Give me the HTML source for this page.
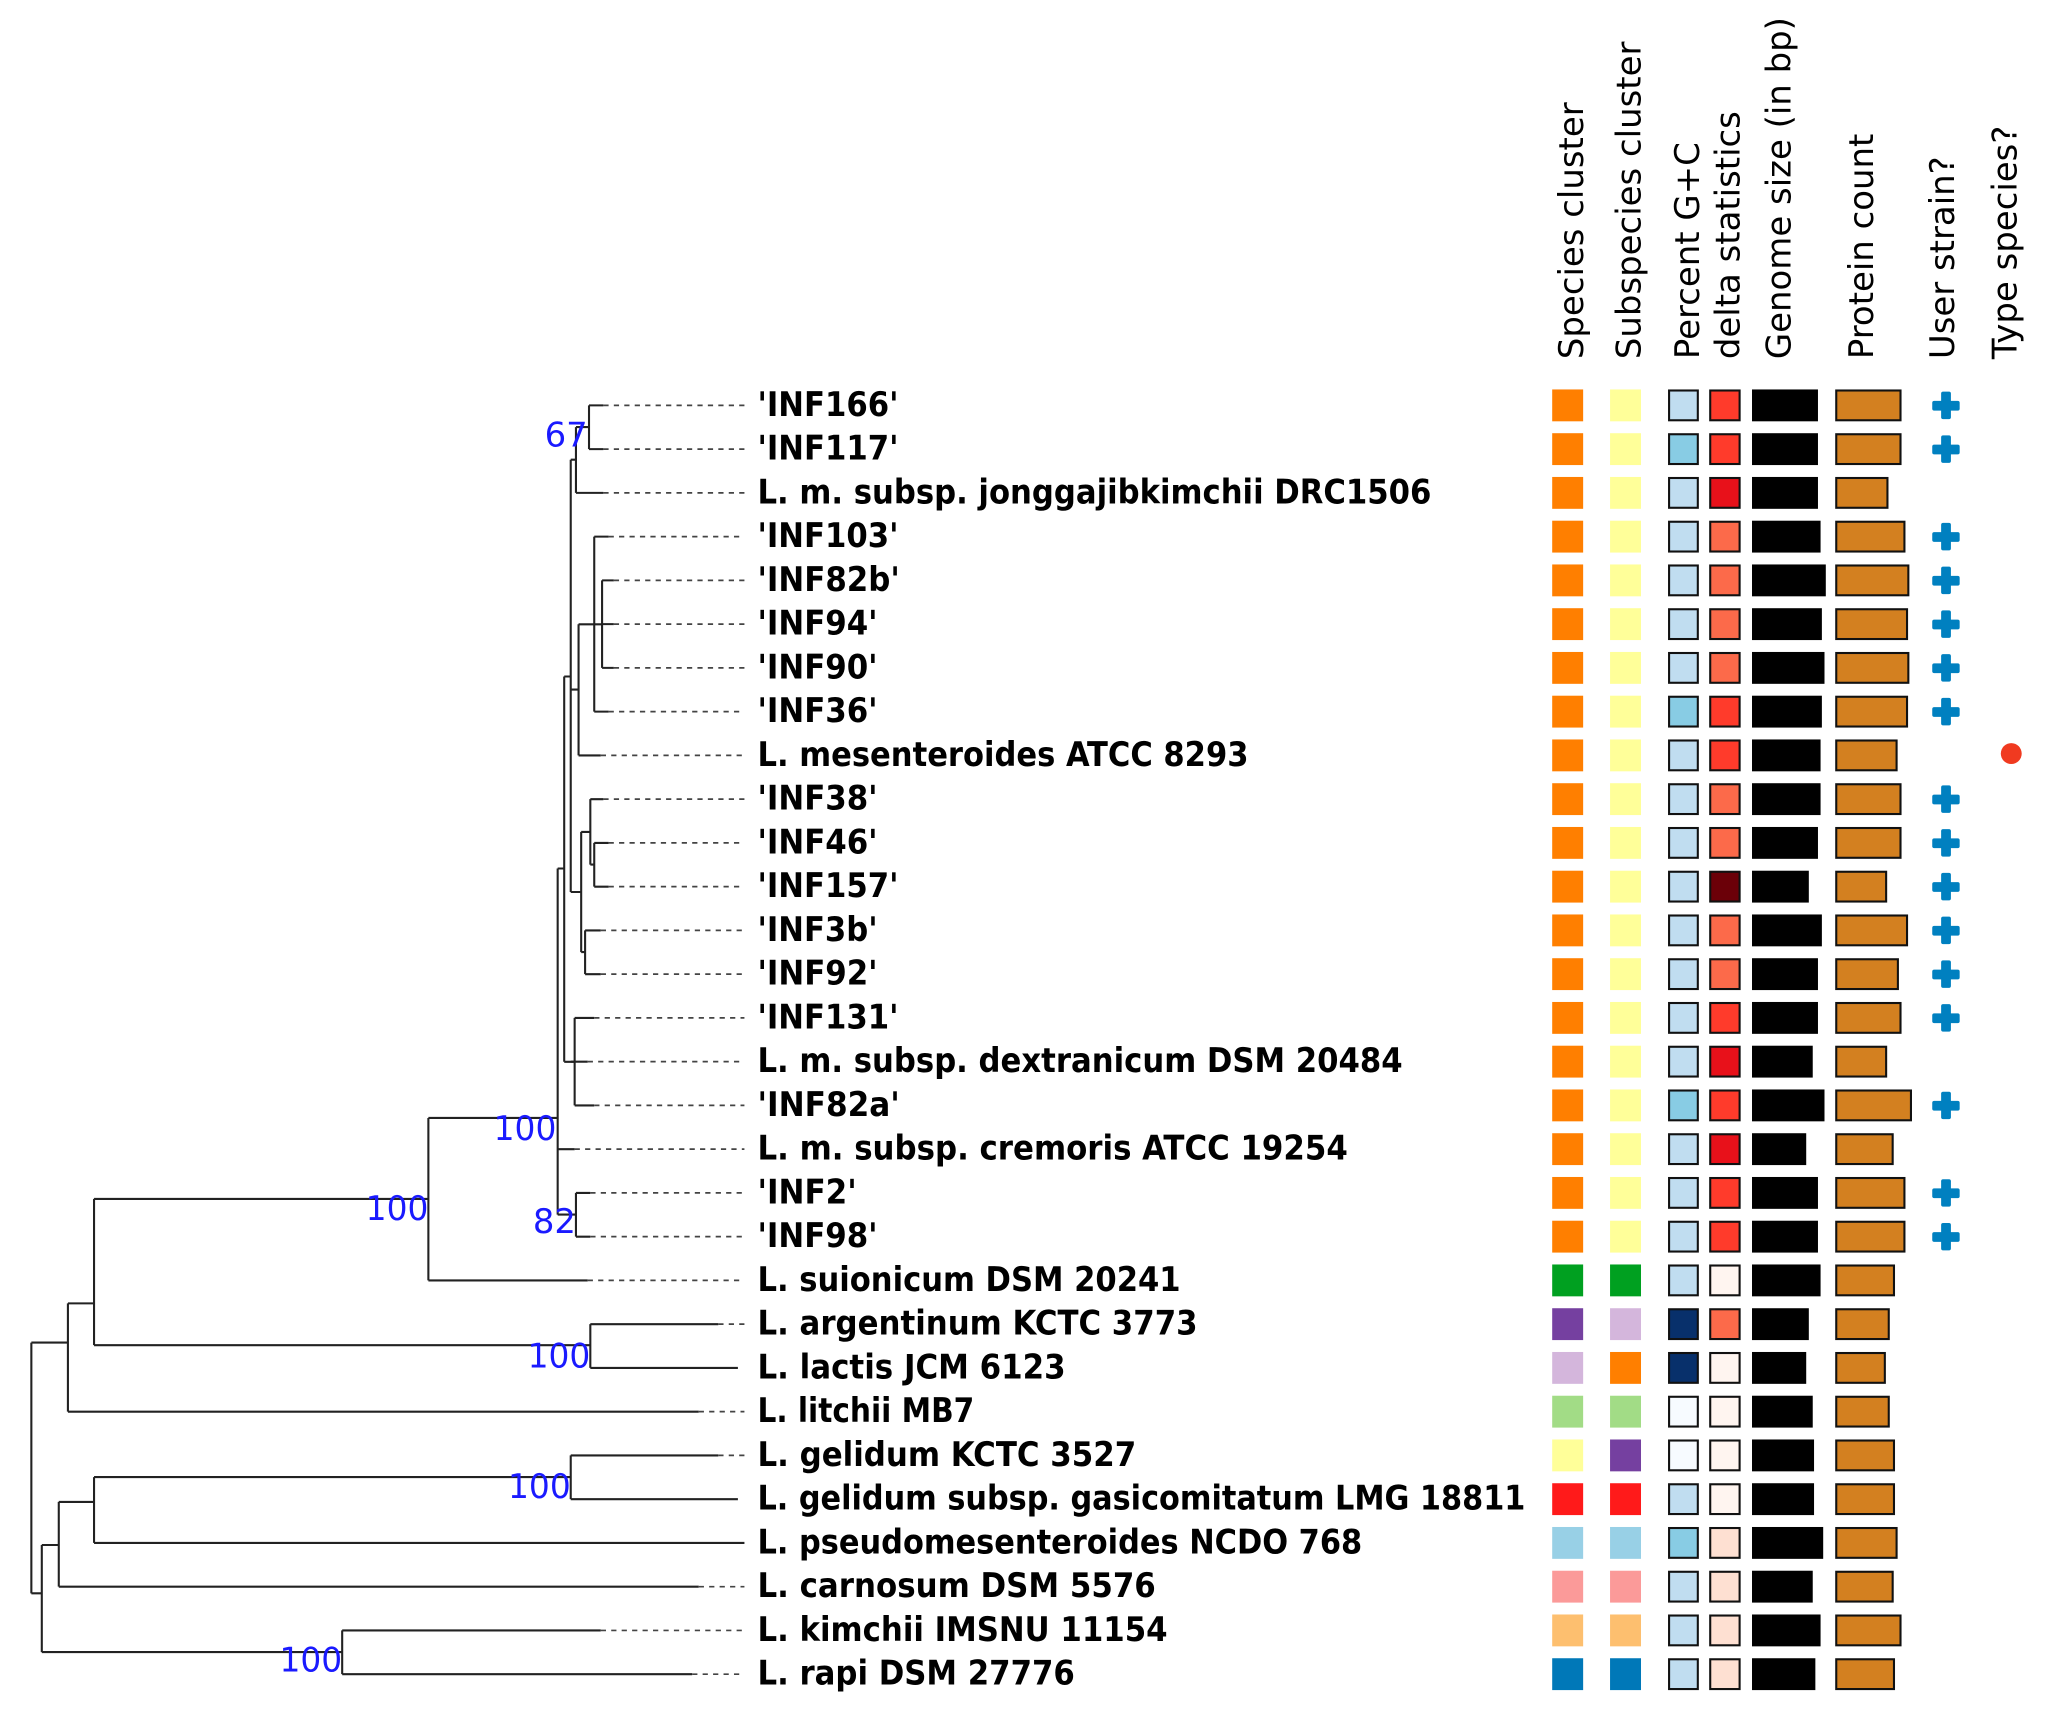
<!DOCTYPE html>
<html><head><meta charset="utf-8"><style>html,body{margin:0;padding:0;background:#fff}svg{display:block}</style></head><body>
<svg width="2046" height="1714" viewBox="0 0 1566.6 1312.4" xmlns="http://www.w3.org/2000/svg">
<g transform="translate(0,-2)">
<g fill="none" stroke="#222" stroke-width="1.6">
<path d="M451 312.4V345.9M441 329H451M441 329V379.4M437 354H441
M461 446.4V513.4M455 480H461M455 412.9V546.9M443 480H455M443 480V580.4M437 530H443
M455 647.4V680.9M452 664H455M452 613.9V664M445 639H452M448 714.4V747.9M445 731H448M445 639V731M437 685H445
M437 354V685M432 520H437M440 781.4V848.4M432 815H440M432 520V815M427 667H432
M441 915.4V948.9M427 932H441M427 667V932M328 858H427M328 858V982.4M72 920H328
M452 1015.9V1049.4M72 1032H452M72 920V1032M52 1000H72M52 1000V1082.9M24 1030H52
M437 1116.4V1149.9M72 1133H437M72 1133V1183.4M45 1152H72M45 1152V1216.9M32 1185H45
M262 1250.4V1283.9M32 1267H262M32 1185V1267M24 1222H32M24 1030V1222"/>
<path d="M451 312.4H462M451 345.9H462M441 379.4H462M455 412.9H466M461 446.4H470M461 479.9H470M461 513.4H470M455 546.9H466M443 580.4H460M452 613.9H462M455 647.4H466M455 680.9H466M448 714.4H460M448 747.9H460M440 781.4H455M437 814.9H450M440 848.4H455M427 881.9H440M441 915.4H452M441 948.9H452M328 982.4H450M452 1015.9H550M452 1049.4H565M52 1082.9H535M437 1116.4H550M437 1149.9H565M72 1183.4H570M45 1216.9H535M262 1250.4H460M262 1283.9H530"/>
</g>
<g fill="none" stroke="#444" stroke-width="1.3" stroke-dasharray="4 4">
<path d="M462 312.4H570M462 345.9H570M462 379.4H570M466 412.9H570M470 446.4H570M470 479.9H570M470 513.4H570M466 546.9H570M460 580.4H570M462 613.9H570M466 647.4H570M466 680.9H570M460 714.4H570M460 747.9H570M455 781.4H570M450 814.9H570M455 848.4H570M440 881.9H570M452 915.4H570M452 948.9H570M450 982.4H570M550 1015.9H570M535 1082.9H570M550 1116.4H570M535 1216.9H570M460 1250.4H570M530 1283.9H570"/>
</g>
<g fill="#1a1aff" font-family="'DejaVu Sans Condensed','DejaVu Sans',sans-serif" font-size="26">
<text x="417" y="344" textLength="33" lengthAdjust="spacingAndGlyphs">67</text>
<text x="378" y="875" textLength="48" lengthAdjust="spacingAndGlyphs">100</text>
<text x="280" y="936" textLength="48" lengthAdjust="spacingAndGlyphs">100</text>
<text x="408" y="946" textLength="33" lengthAdjust="spacingAndGlyphs">82</text>
<text x="404" y="1049" textLength="48" lengthAdjust="spacingAndGlyphs">100</text>
<text x="389" y="1149" textLength="48" lengthAdjust="spacingAndGlyphs">100</text>
<text x="214" y="1282" textLength="48" lengthAdjust="spacingAndGlyphs">100</text>
</g>
<g fill="#000" font-family="'DejaVu Sans Condensed','DejaVu Sans',sans-serif" font-weight="bold" font-size="26">
<text x="580" y="320.4" textLength="108" lengthAdjust="spacingAndGlyphs">'INF166'</text>
<text x="580" y="353.9" textLength="108" lengthAdjust="spacingAndGlyphs">'INF117'</text>
<text x="580" y="387.4" textLength="516" lengthAdjust="spacingAndGlyphs">L. m. subsp. jonggajibkimchii DRC1506</text>
<text x="580" y="420.9" textLength="108" lengthAdjust="spacingAndGlyphs">'INF103'</text>
<text x="580" y="454.4" textLength="109" lengthAdjust="spacingAndGlyphs">'INF82b'</text>
<text x="580" y="487.9" textLength="92" lengthAdjust="spacingAndGlyphs">'INF94'</text>
<text x="580" y="521.4" textLength="92" lengthAdjust="spacingAndGlyphs">'INF90'</text>
<text x="580" y="554.9" textLength="92" lengthAdjust="spacingAndGlyphs">'INF36'</text>
<text x="580" y="588.4" textLength="376" lengthAdjust="spacingAndGlyphs">L. mesenteroides ATCC 8293</text>
<text x="580" y="621.9" textLength="92" lengthAdjust="spacingAndGlyphs">'INF38'</text>
<text x="580" y="655.4" textLength="92" lengthAdjust="spacingAndGlyphs">'INF46'</text>
<text x="580" y="688.9" textLength="108" lengthAdjust="spacingAndGlyphs">'INF157'</text>
<text x="580" y="722.4" textLength="92" lengthAdjust="spacingAndGlyphs">'INF3b'</text>
<text x="580" y="755.9" textLength="92" lengthAdjust="spacingAndGlyphs">'INF92'</text>
<text x="580" y="789.4" textLength="108" lengthAdjust="spacingAndGlyphs">'INF131'</text>
<text x="580" y="822.9" textLength="494" lengthAdjust="spacingAndGlyphs">L. m. subsp. dextranicum DSM 20484</text>
<text x="580" y="856.4" textLength="109" lengthAdjust="spacingAndGlyphs">'INF82a'</text>
<text x="580" y="889.9" textLength="452" lengthAdjust="spacingAndGlyphs">L. m. subsp. cremoris ATCC 19254</text>
<text x="580" y="923.4" textLength="76" lengthAdjust="spacingAndGlyphs">'INF2'</text>
<text x="580" y="956.9" textLength="92" lengthAdjust="spacingAndGlyphs">'INF98'</text>
<text x="580" y="990.4" textLength="324" lengthAdjust="spacingAndGlyphs">L. suionicum DSM 20241</text>
<text x="580" y="1023.9" textLength="337" lengthAdjust="spacingAndGlyphs">L. argentinum KCTC 3773</text>
<text x="580" y="1057.4" textLength="236" lengthAdjust="spacingAndGlyphs">L. lactis JCM 6123</text>
<text x="580" y="1090.9" textLength="166" lengthAdjust="spacingAndGlyphs">L. litchii MB7</text>
<text x="580" y="1124.4" textLength="290" lengthAdjust="spacingAndGlyphs">L. gelidum KCTC 3527</text>
<text x="580" y="1157.9" textLength="588" lengthAdjust="spacingAndGlyphs">L. gelidum subsp. gasicomitatum LMG 18811</text>
<text x="580" y="1191.4" textLength="463" lengthAdjust="spacingAndGlyphs">L. pseudomesenteroides NCDO 768</text>
<text x="580" y="1224.9" textLength="305" lengthAdjust="spacingAndGlyphs">L. carnosum DSM 5576</text>
<text x="580" y="1258.4" textLength="314" lengthAdjust="spacingAndGlyphs">L. kimchii IMSNU 11154</text>
<text x="580" y="1291.9" textLength="243" lengthAdjust="spacingAndGlyphs">L. rapi DSM 27776</text>
</g>
<g id="cells"></g>
<circle cx="1540" cy="579" r="8" fill="#f03a20"/>
</g>
<g fill="#000" font-family="'DejaVu Sans',sans-serif" font-size="26">
<text transform="translate(1212,275) rotate(-90)">Species cluster</text>
<text transform="translate(1256,275) rotate(-90)">Subspecies cluster</text>
<text transform="translate(1301,275) rotate(-90)">Percent G+C</text>
<text transform="translate(1332,275) rotate(-90)">delta statistics</text>
<text transform="translate(1371,275) rotate(-90)">Genome size (in bp)</text>
<text transform="translate(1434,275) rotate(-90)">Protein count</text>
<text transform="translate(1496,275) rotate(-90)">User strain?</text>
<text transform="translate(1544,275) rotate(-90)">Type species?</text>
</g>
</svg>
<script>
var ys=[];for(var i=0;i<30;i++)ys.push(312.4+33.5*i);
var S=[],SS=[];for(i=0;i<20;i++){S.push("#ff7f00");SS.push("#ffff99");}
S=S.concat(["#00a020","#7540a0","#d4b6dc","#a2dc86","#ffff99","#ff1a1a","#98d0e6","#fb9a99","#fdbf6f","#0078b8"]);
SS=SS.concat(["#00a020","#d4b6dc","#ff7f00","#a2dc86","#7540a0","#ff1a1a","#98d0e6","#fb9a99","#fdbf6f","#0078b8"]);
var L="#c0ddf0",M="#88cce4",N="#08306b",W="#f7fbff";
var GC=[L,M,L,L,L,L,L,M,L,L,L,L,L,L,L,L,M,L,L,L,L,N,N,W,W,L,M,L,L,L];
var a="#ff3b2b",b="#e8111a",c="#fc6a4a",d="#6b0008",e="#fff5f0",f="#fee0d2";
var DL=[a,a,b,c,c,c,c,a,a,c,c,d,c,c,a,b,a,b,a,a,e,c,e,e,e,e,f,f,f,f];
var GE=[1392,1392,1392,1394,1398,1395,1397,1395,1394,1394,1392,1385,1395,1392,1392,1388,1397,1383,1392,1392,1394,1385,1383,1388,1389,1389,1396,1388,1394,1390];
var PR=[1456,1456,1446,1459,1462,1461,1462,1461,1453,1456,1456,1445,1461,1454,1456,1445,1464,1450,1459,1459,1451,1447,1444,1447,1451,1451,1453,1450,1456,1451];
var PL=[0,1,3,4,5,6,7,9,10,11,12,13,14,16,18,19];
var h="";
for(i=0;i<30;i++){var y=ys[i]-12.2,H=24.4;
h+='<rect x="1188.5" y="'+y+'" width="23.7" height="'+H+'" fill="'+S[i]+'"/>';
h+='<rect x="1232.8" y="'+y+'" width="23.7" height="'+H+'" fill="'+SS[i]+'"/>';
h+='<rect x="1278" y="'+(y+0.8)+'" width="22" height="'+(H-1.6)+'" fill="'+GC[i]+'" stroke="#111" stroke-width="1.6"/>';
h+='<rect x="1309.5" y="'+(y+0.8)+'" width="22.5" height="'+(H-1.6)+'" fill="'+DL[i]+'" stroke="#111" stroke-width="1.6"/>';
h+='<rect x="1341.5" y="'+y+'" width="'+(GE[i]-1341.5)+'" height="'+H+'" fill="#000"/>';
h+='<rect x="1406" y="'+(y+0.8)+'" width="'+(PR[i]-1406.8)+'" height="'+(H-1.6)+'" fill="#d38020" stroke="#111" stroke-width="1.6"/>';
}
for(var k=0;k<PL.length;k++){var yy=ys[PL[k]];
h+='<rect x="1479.5" y="'+(yy-3.5)+'" width="21" height="7.5" rx="1.5" fill="#0080c0"/><rect x="1486.3" y="'+(yy-10.5)+'" width="7.5" height="21" rx="1.5" fill="#0080c0"/>';}
document.getElementById("cells").innerHTML=h;
</script>
</body></html>
